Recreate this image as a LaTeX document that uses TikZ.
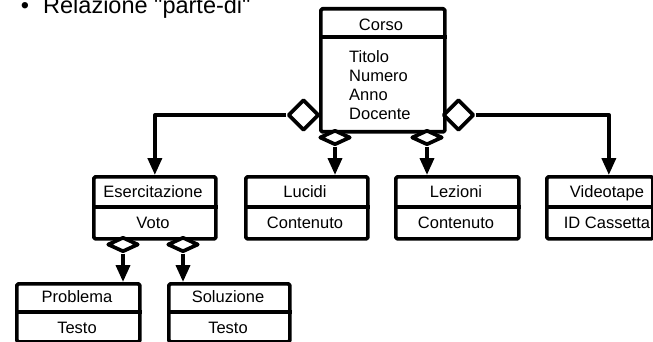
\documentclass[tikz,border=0pt]{standalone}
\usepackage{fontspec}
\setmainfont{Liberation Sans}
% family without the TeX quote mapping, so that " stays a straight quote
\newfontfamily\plainsans{Liberation Sans}
\usetikzlibrary{arrows.meta,shapes.geometric}

\tikzset{
  ink/.style={line width=3.7pt, line join=round},
  classbox/.style={ink, draw=black, fill=white, rectangle, rounded corners=1.5pt,
    inner sep=0pt, anchor=north west},
  divider/.style={ink, draw=black},
  lbl/.style={font=\fontsize{16.5}{19}\selectfont, inner sep=0pt, anchor=base},
  attr/.style={lbl, anchor=base west},
  agg/.style={ink, draw=black, fill=white, diamond, inner sep=0pt},
  bigagg/.style={agg, minimum width=31pt, minimum height=31pt},
  flatagg/.style={agg, minimum width=31pt, minimum height=15pt},
  conn/.style={ink, line cap=butt, -{Triangle[length=17pt,width=14pt]}},
  headline/.style={font=\plainsans\fontsize{23.5}{28}\selectfont, inner sep=0pt},
}

\begin{document}
\begin{tikzpicture}[x=1pt,y=-1pt]
\useasboundingbox (0,0) rectangle (653,342);

% title bullet
\node[headline, anchor=base] (bullet) at (25,14) {•};
\node[headline, anchor=base west] (title) at (43,14) {Relazione "parte-di"};

% Corso
\node[classbox, minimum width=124pt, minimum height=123pt] (corso) at (319,7) {};
\draw[divider] (corso.west |- 0,37) -- (corso.east |- 0,37);
\node[lbl] (corso-h) at (381,31) {Corso};
\node[attr] (corso-a1) at (349,63) {Titolo};
\node[attr] (corso-a2) at (349,82) {Numero};
\node[attr] (corso-a3) at (349,101) {Anno};
\node[attr] (corso-a4) at (349,120) {Docente};

% second level classes
\node[classbox, minimum width=122pt, minimum height=62pt] (eserc) at (92,175) {};
\draw[divider] (eserc.west |- 0,207) -- (eserc.east |- 0,207);
\node[lbl] (eserc-h) at (153,197) {Esercitazione};
\node[lbl] (eserc-b) at (153,228) {Voto};

\node[classbox, minimum width=122pt, minimum height=62pt] (luc) at (244,175) {};
\draw[divider] (luc.west |- 0,207) -- (luc.east |- 0,207);
\node[lbl] (luc-h) at (305,197) {Lucidi};
\node[lbl] (luc-b) at (305,228) {Contenuto};

\node[classbox, minimum width=123pt, minimum height=62pt] (lez) at (394,175) {};
\draw[divider] (lez.west |- 0,207) -- (lez.east |- 0,207);
\node[lbl] (lez-h) at (456,197) {Lezioni};
\node[lbl] (lez-b) at (456,228) {Contenuto};

\node[classbox, minimum width=106pt, minimum height=62pt] (vt) at (545,175) {};
\draw[divider] (vt.west |- 0,207) -- (vt.east |- 0,207);
\node[lbl] (vt-h) at (607,197) {Videotape};
\node[lbl] (vt-b) at (607,228) {ID Cassetta};

% third level classes
\node[classbox, minimum width=123pt, minimum height=58pt] (prob) at (15,282) {};
\draw[divider] (prob.west |- 0,312) -- (prob.east |- 0,312);
\node[lbl] (prob-h) at (77,302) {Problema};
\node[lbl] (prob-b) at (77,333) {Testo};

\node[classbox, minimum width=121pt, minimum height=58pt] (sol) at (167,282) {};
\draw[divider] (sol.west |- 0,312) -- (sol.east |- 0,312);
\node[lbl] (sol-h) at (228,302) {Soluzione};
\node[lbl] (sol-b) at (228,333) {Testo};

% aggregation diamonds
\node[bigagg] (aggL) at (303.5,115) {};
\node[bigagg] (aggR) at (458.5,115) {};
\node[flatagg] (aggLuc) at (335,137.5) {};
\node[flatagg] (aggLez) at (427,137.5) {};
\node[flatagg] (aggProb) at (123,244.5) {};
\node[flatagg] (aggSol) at (183,244.5) {};

% part-of connectors
\draw[conn] (aggL.west) -| (eserc.north);
\draw[conn] (aggR.east) -| ([xshift=9pt]vt.north);
\draw[conn] (aggLuc.south) -- (aggLuc.south |- luc.north);
\draw[conn] (aggLez.south) -- (aggLez.south |- lez.north);
\draw[conn] (aggProb.south) -- (aggProb.south |- prob.north);
\draw[conn] (aggSol.south) -- (aggSol.south |- sol.north);
\end{tikzpicture}
\end{document}
